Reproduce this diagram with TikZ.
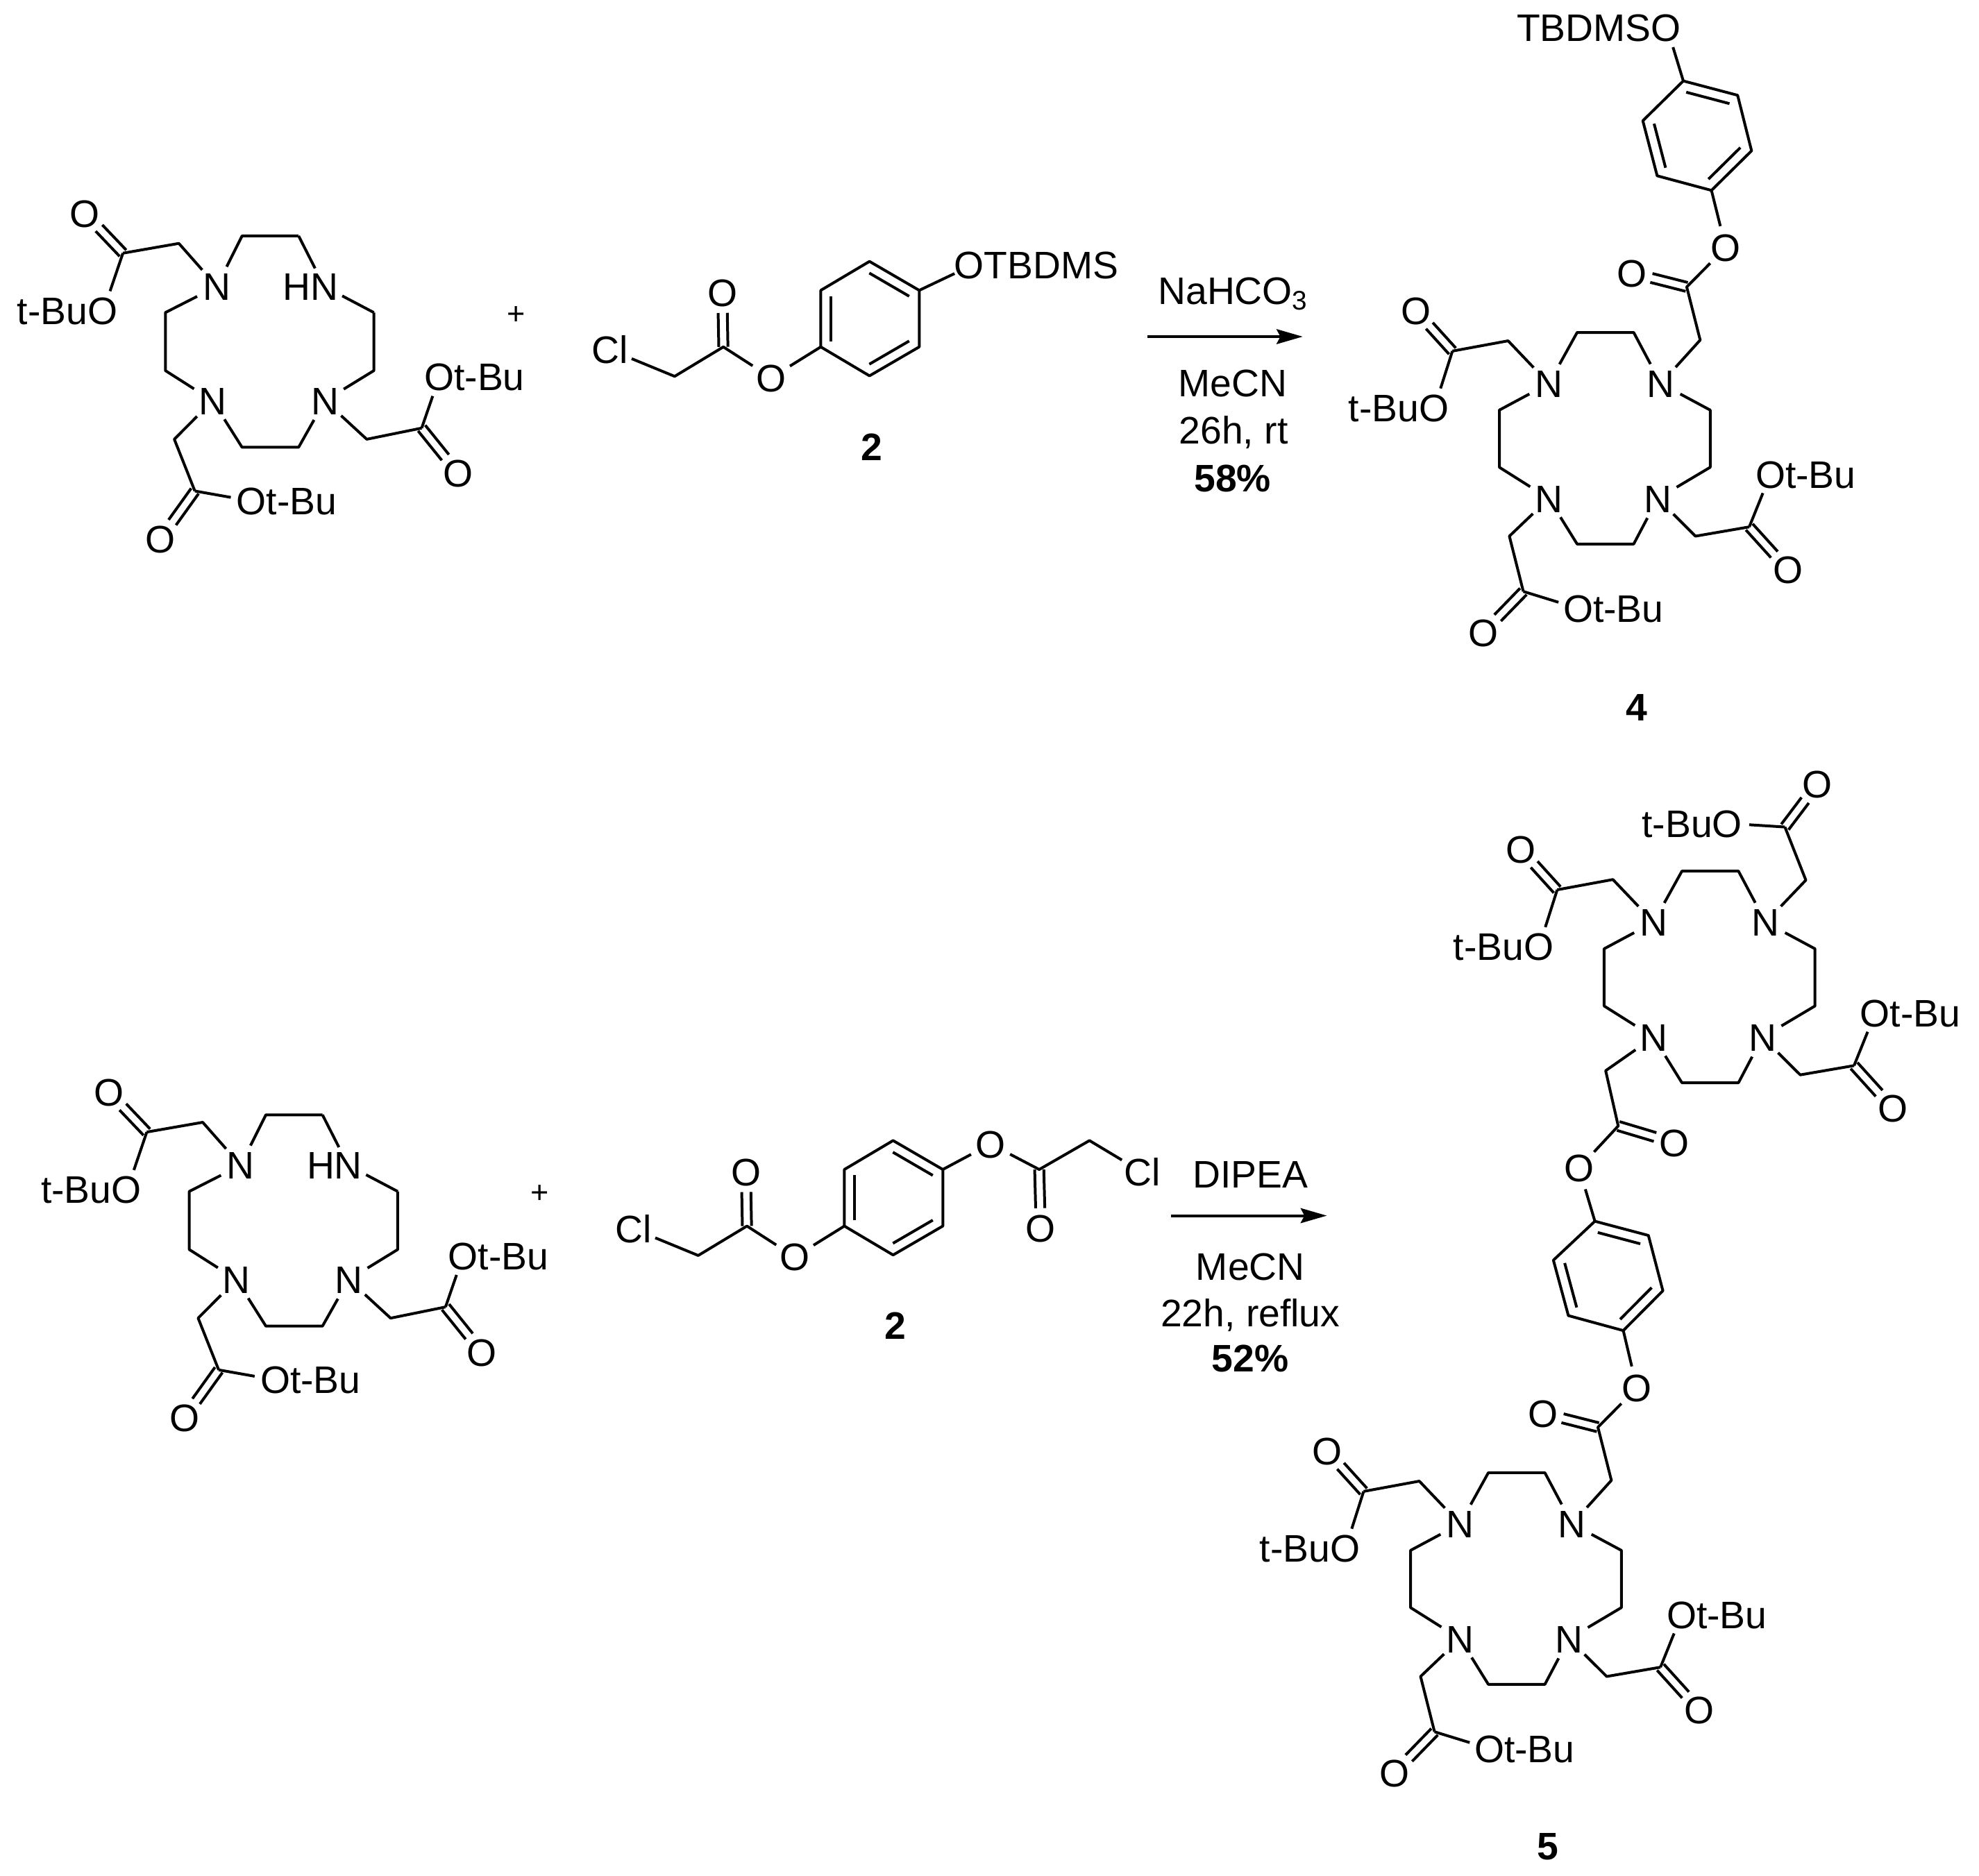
\documentclass[tikz,border=0pt]{standalone}
\usepackage{fontspec}
\setmainfont{Liberation Sans}
\usetikzlibrary{calc,arrows.meta}
\newcommand{\chemfont}{\fontsize{8.6}{10}\selectfont}
\tikzset{
	bond/.style={line width=0.62pt,line join=round},
	txt/.style={inner sep=0pt,font=\chemfont,text height=6.2pt,text depth=0pt},
	boldtxt/.style={txt,font=\chemfont\bfseries},
	atom/.style={txt,circle,minimum size=9.5pt},
	togap/.style={shorten >=0.16cm},
	fromgap/.style={shorten <=0.16cm},
	reaction/.style={bond,-{Stealth[length=0.206cm,width=0.117cm,inset=0.03cm]}}
}
\newcommand{\cobond}[2]{
	\draw[bond,togap] ($(#1)!0.036cm!90:(#2)$) -- ($(#2)!0.036cm!-90:(#1)$);
	\draw[bond,togap] ($(#1)!0.036cm!-90:(#2)$) -- ($(#2)!0.036cm!90:(#1)$);
}
\newcommand{\innerbond}[2]{
	\draw[bond,shorten <=0.045cm,shorten >=0.045cm] ($(#1)!0.08cm!-90:(#2)$) -- ($(#2)!0.08cm!90:(#1)$);
}
\newcommand{\hexring}[7]{
	\coordinate (#1a) at (#2);
	\coordinate (#1b) at (#3);
	\coordinate (#1c) at (#4);
	\coordinate (#1d) at (#5);
	\coordinate (#1e) at (#6);
	\coordinate (#1f) at (#7);
	\draw[bond] (#1a) -- (#1b) -- (#1c) -- (#1d) -- (#1e) -- (#1f) -- cycle;
	\innerbond{#1a}{#1b}
	\innerbond{#1c}{#1d}
	\innerbond{#1e}{#1f}
}
\newcommand{\estarm}[8]{
	\coordinate (#1h) at (#3);
	\coordinate (#1c) at (#4);
	\node[atom] (#1o) at (#5) {O};
	\coordinate (#1r) at (#6);
	\node[txt] (#1t) at (#7) {#8};
	\draw[bond] (#2) -- (#1h) -- (#1c);
	\draw[bond,togap] (#1c) -- (#1r);
	\cobond{#1c}{#1o}
}
\newcommand{\amine}[1]{
	\node[atom] (#1n1) at (170.9,225.8) {N};
	\node[txt] (#1hn) at (244.9,225.8) {HN};
	\coordinate (#1n2) at (255.6,225.8);
	\node[atom] (#1n3) at (167.6,315.9) {N};
	\node[atom] (#1n4) at (256.1,315.9) {N};
	\coordinate (#1c1) at (190.8,186);
	\coordinate (#1c2) at (235.4,186);
	\coordinate (#1c3) at (294.7,246.4);
	\coordinate (#1c4) at (294.7,292.2);
	\coordinate (#1c5) at (235.4,352.6);
	\coordinate (#1c6) at (190.8,352.6);
	\coordinate (#1c7) at (130.4,292.2);
	\coordinate (#1c8) at (130.4,246.4);
	\draw[bond] (#1n1) -- (#1c1) -- (#1c2);
	\draw[bond,togap] (#1c2) -- (#1n2);
	\draw[bond,fromgap] (#1n2) -- (#1c3);
	\draw[bond] (#1c3) -- (#1c4) -- (#1n4) -- (#1c5) -- (#1c6) -- (#1n3) -- (#1c7) -- (#1c8) -- (#1n1);
	\estarm{#1p}{#1n1}{141,191.9}{96.9,199.6}{67,168.2}{81.6,244.7}{53.1,244.7}{t-BuO}
	\estarm{#1q}{#1n4}{289.1,346.3}{332.4,337.5}{361.1,373.1}{346.3,297.1}{374,297.1}{Ot-Bu}
	\estarm{#1s}{#1n3}{137.4,346.3}{153.6,387.1}{126.5,424.9}{197.7,394.9}{226,394.9}{Ot-Bu}
}
\newcommand{\chloride}[1]{
	\node[atom] (#1cl) at (480.7,275.7) {Cl};
	\coordinate (#1h) at (531.8,296.7);
	\coordinate (#1c) at (570.2,273.5);
	\node[atom] (#1o) at (569.4,230.7) {O};
	\node[atom] (#1e) at (607.9,297.8) {O};
	\hexring{#1r}{647,273.5}{647,228.9}{685.4,206.1}{724.6,228.9}{724.6,273.5}{685.4,296.3}
	\draw[bond] (#1cl) -- (#1h) -- (#1c) -- (#1e) -- (#1ra);
	\cobond{#1c}{#1o}
}
\newcommand{\cyclen}[1]{
	\node[atom] (#1n1) at (1220.9,302.4) {N};
	\node[atom] (#1n2) at (1309.2,302.4) {N};
	\node[atom] (#1n3) at (1220.9,393) {N};
	\node[atom] (#1n4) at (1306.7,393) {N};
	\coordinate (#1c1) at (1243.2,262.1);
	\coordinate (#1c2) at (1287.8,262.1);
	\coordinate (#1c3) at (1348.1,323.3);
	\coordinate (#1c4) at (1348.1,368.4);
	\coordinate (#1c5) at (1287.8,428.9);
	\coordinate (#1c6) at (1243.2,428.9);
	\coordinate (#1c7) at (1181.9,368.4);
	\coordinate (#1c8) at (1181.9,323.3);
	\draw[bond] (#1n1) -- (#1c1) -- (#1c2) -- (#1n2) -- (#1c3) -- (#1c4) -- (#1n4) -- (#1c5) -- (#1c6) -- (#1n3) -- (#1c7) -- (#1c8) -- (#1n1);
	\estarm{#1p}{#1n1}{1188.8,268.7}{1144.9,276.8}{1116,244.9}{1130.7,321.5}{1102.5,321.5}{t-BuO}
	\estarm{#1q}{#1n4}{1336.5,422.7}{1378.9,415.4}{1409.4,449.1}{1395.6,373.9}{1423.3,373.9}{Ot-Bu}
}
\newcommand{\lowerarm}[1]{
	\estarm{#1s}{#1n3}{1189.8,422.7}{1200.8,466.3}{1169.4,498.6}{1243.8,479.5}{1271.8,479.5}{Ot-Bu}
	\coordinate (#1h) at (1340.2,268.1);
	\coordinate (#1k) at (1329.6,226.2);
	\node[atom] (#1o) at (1286.2,215.2) {O};
	\node[atom] (#1e) at (1360.3,195.2) {O};
	\draw[bond] (#1n2) -- (#1h) -- (#1k) -- (#1e);
	\cobond{#1k}{#1o}
}
\begin{document}
\begin{tikzpicture}[x=0.01cm,y=-0.01cm]
	\useasboundingbox (0,0) rectangle (1560,1478.5);
	\amine{a}
	\node[txt,font=\fontsize{7}{8}\selectfont] (plusa) at (406.9,244.7) {+};
	\chloride{b}
	\node[txt] (botbdms) at (817,208.8) {OTBDMS};
	\coordinate (boo) at (766.9,208.8);
	\draw[bond,togap] (brd) -- (boo);
	\node[boldtxt] (btag) at (687.4,352) {2};
	\node[txt] (naco) at (972.6,229.3) {NaHCO\textsubscript{3}};
	\coordinate (arra) at (904.6,265.4);
	\coordinate (arrb) at (1026.9,265.4);
	\draw[reaction] (arra) -- (arrb);
	\node[txt] (mecna) at (971.8,302) {MeCN};
	\node[txt] (timea) at (972.4,339.2) {26h, rt};
	\node[boldtxt] (yielda) at (971.6,376.6) {58\%};
	\cyclen{d}
	\lowerarm{d}
	\hexring{dr}{1326.9,63.8}{1369.7,75.1}{1380.7,118.9}{1349.1,150.1}{1306.3,138.6}{1295,95.2}
	\draw[bond] (drd) -- (de);
	\node[txt] (dtbdms) at (1260.3,21.9) {TBDMSO};
	\coordinate (doo) at (1314.1,21.9);
	\draw[bond,togap] (dra) -- (doo);
	\node[boldtxt] (dtag) at (1290,557.2) {4};
	\begin{scope}[shift={(18.8,692.9)}]
		\amine{f}
		\node[txt,font=\fontsize{7}{8}\selectfont] (plusb) at (406.9,244.7) {+};
	\end{scope}
	\begin{scope}[shift={(18.6,693.1)}]
		\chloride{g}
	\end{scope}
	\node[atom] (ge2) at (780.8,901.9) {O};
	\coordinate (gk) at (819.2,922);
	\node[atom] (go2) at (820.4,968.5) {O};
	\coordinate (gh2) at (858.8,899.2);
	\node[atom] (gcl2) at (900.3,924.1) {Cl};
	\draw[bond] (grd) -- (ge2) -- (gk) -- (gh2) -- (gcl2);
	\cobond{gk}{go2}
	\node[boldtxt] (gtag) at (705.9,1045.1) {2};
	\node[txt] (dipea) at (985.6,925.6) {DIPEA};
	\coordinate (arrc) at (923.3,958.4);
	\coordinate (arrd) at (1045.9,958.4);
	\draw[reaction] (arrc) -- (arrd);
	\node[txt] (mecnb) at (985.6,998.6) {MeCN};
	\node[txt] (timeb) at (985.6,1035) {22h, reflux};
	\node[boldtxt] (yieldb) at (985.6,1070.6) {52\%};
	\begin{scope}[shift={(82.6,424.7)}]
		\cyclen{h}
	\end{scope}
	\estarm{hu}{hn2}{1423.5,693.9}{1407,652}{1432.6,618.1}{1362.9,649.2}{1333.9,649.2}{t-BuO}
	\coordinate (hh) at (1265.7,844.1);
	\coordinate (hk) at (1275.6,887.7);
	\node[atom] (ho) at (1320,901) {O};
	\node[atom] (he) at (1244.7,920.9) {O};
	\draw[bond] (hn3) -- (hh) -- (hk) -- (he);
	\cobond{hk}{ho}
	\hexring{hr}{1257.2,962.8}{1299.4,974}{1310.8,1017.6}{1279.6,1049}{1236.3,1037.2}{1224.5,993.5}
	\draw[bond] (he) -- (hra);
	\begin{scope}[shift={(-70,899)}]
		\cyclen{i}
		\lowerarm{i}
	\end{scope}
	\draw[bond] (hrd) -- (ie);
	\node[boldtxt] (itag) at (1220,1455) {5};
\end{tikzpicture}
\end{document}
